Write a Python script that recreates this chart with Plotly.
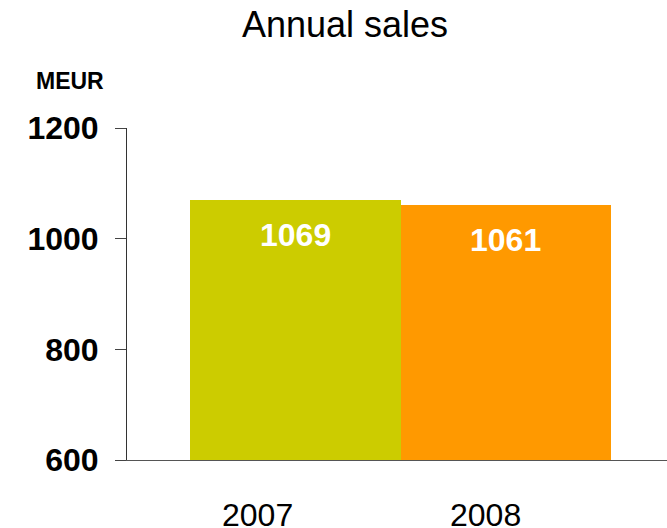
import plotly.graph_objects as go

# Data
years = ["2007", "2008"]
sales_meur = [1069, 1061]
bar_colors = ["#CCCC00", "#FF9900"]
y_ticks = [600, 800, 1000, 1200]

FONT = "Liberation Sans, Arial, sans-serif"

fig = go.Figure()
fig.add_trace(go.Bar(
    x=years,
    y=sales_meur,
    marker=dict(color=bar_colors, line=dict(width=0)),
    width=1.0,
    hoverinfo="x+y",
))

# Value labels placed inside the top of each bar (x given as category index)
for i, val in enumerate(sales_meur):
    fig.add_annotation(
        x=i, y=val, text=str(val), showarrow=False,
        yanchor="middle", xanchor="center", yshift=-35,
        font=dict(family=FONT, size=32, color="white", weight="bold"),
    )

# Year labels under the axis (shifted left of the bar centres)
label_shift = [-38, -20]
for i, (yr, dx) in enumerate(zip(years, label_shift)):
    fig.add_annotation(
        x=i, y=0, yref="paper", text=yr, showarrow=False,
        yanchor="middle", xanchor="center", yshift=-55, xshift=dx,
        font=dict(family=FONT, size=32, color="black"),
    )

# Unit label above the value axis
fig.add_annotation(
    x=-0.105, y=1.143, xref="paper", yref="paper", text="<b>MEUR</b>",
    showarrow=False, xanchor="center", yanchor="middle",
    font=dict(family=FONT, size=23, color="black"),
)

fig.update_layout(
    width=667, height=528,
    margin=dict(l=127, r=0, t=127.5, b=68),
    paper_bgcolor="white", plot_bgcolor="white",
    showlegend=False,
    bargap=0,
    title=dict(
        text="Annual sales", x=345 / 667, xanchor="center",
        y=1 - 24 / 528, yanchor="middle", yref="container",
        font=dict(family=FONT, size=36, color="black"),
    ),
    xaxis=dict(
        type="category", categoryorder="array", categoryarray=years,
        range=[-0.8007, 1.766],
        showline=True, linecolor="#555555", linewidth=1,
        showticklabels=False, ticks="", showgrid=False, zeroline=False,
        fixedrange=True,
    ),
    yaxis=dict(
        range=[600, 1200], tickvals=y_ticks,
        showline=True, linecolor="#333333", linewidth=1,
        ticks="outside", ticklen=11, tickcolor="#444444", tickwidth=1,
        ticklabelstandoff=10,
        tickfont=dict(family=FONT, size=32, color="black", weight="bold"),
        showgrid=False, zeroline=False, fixedrange=True,
    ),
)

fig.write_html("out.html")
